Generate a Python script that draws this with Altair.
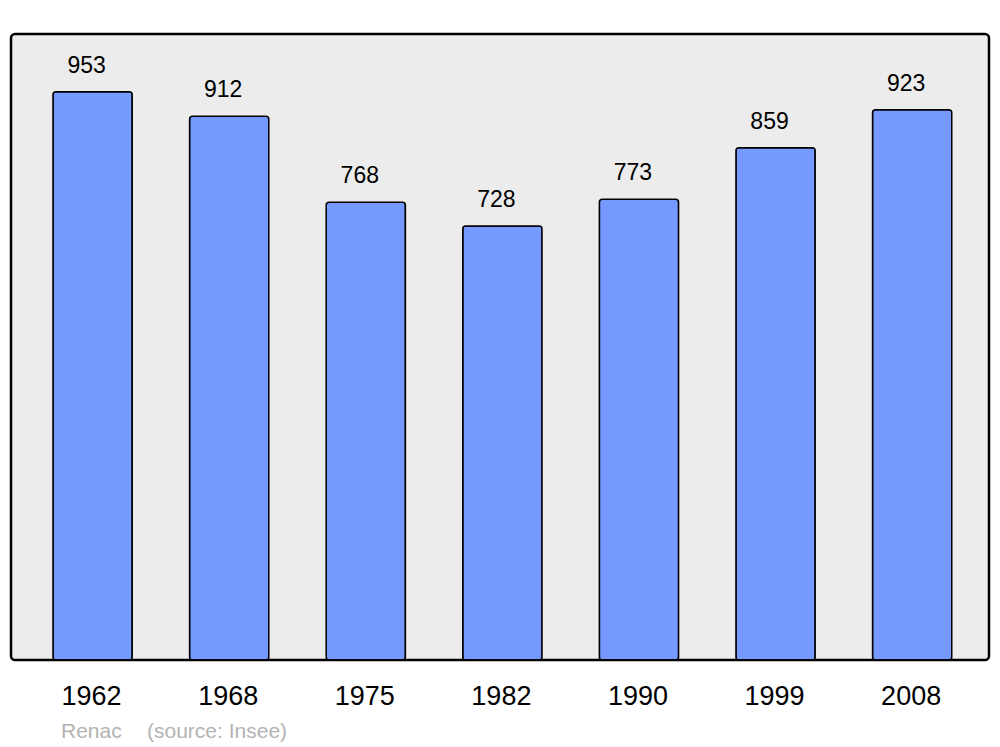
import altair as alt
import pandas as pd

years = ["1962", "1968", "1975", "1982", "1990", "1999", "2008"]
population = [953, 912, 768, 728, 773, 859, 923]
caption_place = "Renac"
caption_source = "(source: Insee)"

df = pd.DataFrame({"year": years, "pop": population})

FONT = "Liberation Sans"

x = alt.X("year:N", sort=years, title=None,
          scale=alt.Scale(paddingInner=0.42, paddingOuter=0.29, align=0.53),
          axis=alt.Axis(labelAngle=0, labelFontSize=27, labelFont=FONT,
                        labelColor="#000000", ticks=False, domain=False,
                        grid=False, labelPadding=23, labelOffset=-1))
y = alt.Y("pop:Q", title=None, scale=alt.Scale(domain=[0, 1050], nice=False),
          axis=None)

bars = alt.Chart(df).mark_bar(
    color="#7599ff", stroke="#000000", strokeWidth=1.5, cornerRadius=3
).encode(x=x, y=y)

labels = alt.Chart(df).mark_text(
    baseline="alphabetic", dy=-19, dx=-6, fontSize=23, font=FONT, color="#000000"
).encode(x=x, y=y, text="pop:Q")

cap1 = alt.Chart(pd.DataFrame({"t": [caption_place]})).mark_text(
    align="left", baseline="alphabetic", fontSize=21, font=FONT, color="#b3b3b3"
).encode(x=alt.value(50), y=alt.value(704), text="t:N")

cap2 = alt.Chart(pd.DataFrame({"t": [caption_source]})).mark_text(
    align="left", baseline="alphabetic", fontSize=21, font=FONT, color="#b3b3b3"
).encode(x=alt.value(136), y=alt.value(704), text="t:N")

chart = alt.layer(bars, labels, cap1, cap2).properties(
    width=978, height=626,
    background="#ffffff",
    autosize=alt.AutoSizeParams(type="none"),
    padding={"left": 3, "top": 26, "right": 3, "bottom": 90},
).configure_view(
    fill="#ececec", stroke="#000000", strokeWidth=2.5, cornerRadius=4
)

chart.save("out.html", embed_options={"renderer": "svg", "actions": False})
